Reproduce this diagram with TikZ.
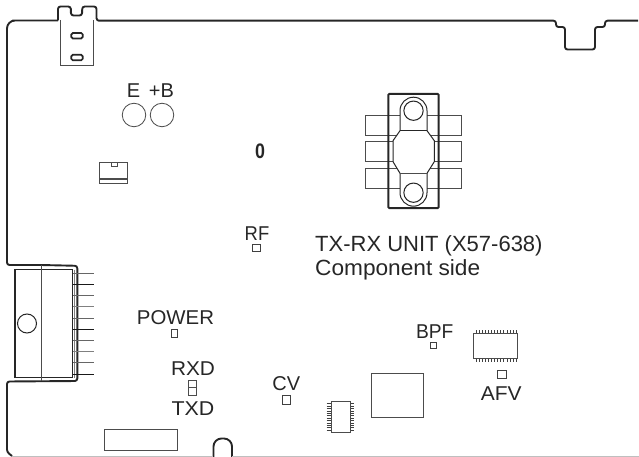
\documentclass[tikz,border=0pt]{standalone}
\usepackage{fontspec}
\setmainfont{Liberation Sans}
\tikzset{
 edge/.style={line width=1.9pt,color=black!85,line join=round,rounded corners=2.5pt},
 thin part/.style={line width=0.8pt,color=black!70},
 dark part/.style={line width=1pt,color=black!85},
 lbl/.style={font=\fontsize{20}{22}\selectfont,color=black!85,inner sep=0pt,anchor=base},
 big lbl/.style={font=\fontsize{22}{24}\selectfont,color=black!85,inner sep=0pt,anchor=base west},
 pad/.style={line width=0.7pt,color=black!75,inner sep=0pt},
}
\begin{document}
\begin{tikzpicture}[x=1pt,y=-1pt]
\useasboundingbox (0,0) rectangle (639,457);
% outline
\draw[edge] (58,20.5) -- (15,20.5) [rounded corners=8pt] -- (7,20.5) -- (7,40) [rounded corners=2.5pt] -- (7,265) -- (41,265) -- (77.3,265.8) -- (77.3,381) -- (7,381.5) -- (7,452) -- (12,456);
\draw[edge] (58,20.5) -- (58,6.5) -- (70.8,6.5) -- (71,15.5) -- (82,15.5) -- (82.3,6.5) -- (96.5,6.5) -- (96.5,20.7) -- (556,20.7) -- (556,27) -- (565,27) -- (565,49.5) -- (595,49.5) -- (595,27) -- (605,27) -- (605,20.7) -- (638,20.7);
\draw[edge,rounded corners=8pt] (213.5,457) -- (213.5,438.5) -- (232,438.5) -- (232,457);
\draw[line width=0.6pt,color=black!25] (12,456.5) -- (213,456.5) (232,456.5) -- (639,456.5);
% clip at top
\draw[thin part] (60.7,20) -- (60.7,65.7) -- (93.3,65.7) -- (93.3,20);
\draw[line width=1.7pt,color=black!85,rounded corners=1.5pt] (71.3,33) rectangle (82.7,38.5);
\draw[line width=1.7pt,color=black!85,rounded corners=1.5pt] (71.3,54.8) rectangle (82.7,60.3);
% E +B
\node[lbl] (e) at (133.5,97.3) {E};
\node[lbl] (b) at (161.5,97.3) {+B};
\node[draw,circle,minimum size=23.5pt,inner sep=0pt,thin part] (ce) at (134,115) {};
\node[draw,circle,minimum size=23.5pt,inner sep=0pt,thin part] (cb) at (162,115) {};
% small switch
\draw[thin part] (99.7,162.3) rectangle (127.7,183.3);
\draw[thin part] (99.7,178.3) -- (127.7,178.3);
\draw[thin part] (99.7,179.5) -- (127.7,179.5);
\draw[thin part] (111.3,162.3) rectangle (117,166.3);
\node[font=\bfseries\fontsize{21}{23}\selectfont,color=black!85,inner sep=0pt,anchor=base] (zero) at (260,159) {\scalebox{0.85}[1]{0}};
% RF
\node[lbl] (rf) at (257,240) {\scalebox{0.92}[1]{RF}};
\node[draw,pad,minimum width=8pt,minimum height=7pt] (rfp) at (256.5,247.5) {};
% big device
\foreach \yy in {115.3,141.7,168.3}{
 \draw[thin part] (365.7,\yy) rectangle (461.7,\yy+19.8);
}
\draw[line width=2pt,color=black!85,rounded corners=1pt] (388.3,94) rectangle (438.7,208);
\draw[line width=1pt,color=black!85,fill=white] (400,130.7) -- (400,110.7) arc (180:360:13.5) -- (427,130.7) -- (434.3,140.7) -- (434.3,161.7) -- (427,173.3) -- (427,192.7) arc (0:180:13.5) -- (400,173.3) -- (393,161.7) -- (393,140.7) -- cycle;
\draw[line width=1pt,color=black!85] (400,130.7) -- (427,130.7);
\draw[line width=0.8pt,color=black!70] (400,173.3) -- (427,173.3);
\node[draw,circle,minimum size=19.3pt,inner sep=0pt,line width=1pt,color=black!85] (h1) at (413.5,110.7) {};
\node[draw,circle,minimum size=19.3pt,inner sep=0pt,line width=1pt,color=black!85] (h2) at (413.5,192.7) {};
% text
\node[big lbl] (t1) at (315,251) {TX-RX UNIT (X57-638)};
\node[big lbl] (t2) at (315,275.5) {\scalebox{1.03}[1]{Component side}};
% connector
\draw[line width=1.1pt,color=black!85] (15,269.5) rectangle (72.5,377.5);
\draw[thin part] (41,265) -- (41,381);
\draw[line width=0.7pt,color=black!50] (74,269.5) -- (74,378);
\foreach \i/\s in {0/60,1/90,2/60,3/50,4/60,5/90,6/60,7/50,8/60,9/90}{
 \draw[line width=0.9pt,color=black!\s] (73,{273.3+\i*11.2}) -- (94,{273.3+\i*11.2});
}
\node[draw,circle,minimum size=19pt,inner sep=0pt,line width=1pt,color=black!85] (hole) at (27,323.5) {};
% labels left
\node[lbl] (pw) at (175.5,324) {\scalebox{1.02}[1]{POWER}};
\node[draw,pad,minimum width=5.7pt,minimum height=8pt] (pwp) at (174,333.3) {};
\node[lbl] (rxd) at (193,375) {\scalebox{1.04}[1]{RXD}};
\draw[thin part] (188.5,380) rectangle (196.5,395);
\draw[thin part] (188.5,387.3) -- (196.5,387.3);
\node[lbl] (txd) at (193,415.7) {\scalebox{1.07}[1]{TXD}};
\draw[thin part] (104.5,429.5) rectangle (177.7,450.3);
% CV
\node[lbl] (cv) at (286.3,390) {CV};
\node[draw,pad,minimum width=8pt,minimum height=9pt] (cvp) at (286.7,400.2) {};
% IC small
\foreach \i in {0,...,11}{
 \draw[line width=0.6pt,color=black!75] (326.7,{403.7+\i*2.4}) -- (331,{403.7+\i*2.4}) (350,{403.7+\i*2.4}) -- (354,{403.7+\i*2.4});
}
\draw[thin part] (331,401) rectangle (350,432.7);
\draw[thin part] (371.3,373.3) rectangle (423.7,417.7);
% BPF
\node[lbl] (bpf) at (434.7,338) {\scalebox{0.96}[1]{BPF}};
\node[draw,pad,minimum width=6.4pt,minimum height=6pt] (bpfp) at (433.5,345.3) {};
% IC big
\draw[thin part] (473.7,333) rectangle (517.7,358.7);
\foreach \i in {0,...,13}{
 \draw[line width=0.5pt,color=black!75] ({476+\i*3.08},330) -- ({476+\i*3.08},333);
 \draw[line width=0.5pt,color=black!75] ({476+\i*3.08},358.7) -- ({476+\i*3.08},361.7);
}
\node[draw,pad,minimum width=8.5pt,minimum height=8pt] (afp) at (501.6,374.3) {};
\node[lbl] (afv) at (501.3,400) {\scalebox{1.05}[1]{AFV}};
\end{tikzpicture}
\end{document}
